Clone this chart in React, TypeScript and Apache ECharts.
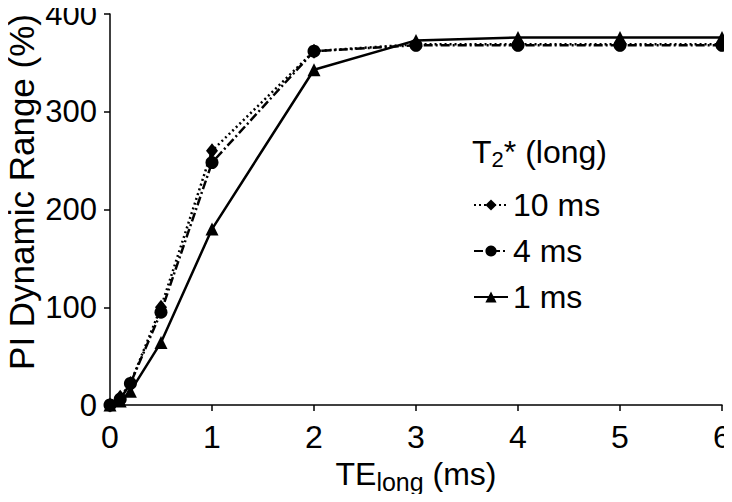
import React, { useEffect, useRef } from "react";
import * as echarts from "echarts";

const xValues = [0, 0.1, 0.2, 0.5, 1, 2, 3, 4, 5, 6];
const series10ms = [0, 8, 22, 100, 260, 362, 369, 369, 369, 369];
const series4ms = [0, 6, 22, 95, 248, 362, 368, 368, 368, 368];
const series1ms = [0, 4, 14, 64, 180, 343, 373, 376, 376, 376];
const seriesNames = ["10 ms", "4 ms", "1 ms"];
const yTicks = [0, 100, 200, 300, 400];
const xTicks = [0, 1, 2, 3, 4, 5, 6];

const FONT = "Liberation Sans, Arial, sans-serif";

export default function App() {
  const ref = useRef<HTMLDivElement>(null);
  useEffect(() => {
    if (!ref.current) return;
    const chart = echarts.init(ref.current, undefined, { renderer: "svg" });
    const pair = (ys: number[]) => xValues.map((x, i) => [x, ys[i]]);
    const common = {
      type: "line",
      color: "#000",
      clip: false,
      itemStyle: { color: "#000" },
    };
    chart.setOption({
      animation: false,
      backgroundColor: "#fff",
      textStyle: { fontFamily: FONT },
      grid: { left: 110, right: 10, top: 14, bottom: 97, outerBoundsMode: "none", containLabel: false },
      xAxis: {
        type: "value",
        min: xTicks[0],
        max: xTicks[xTicks.length - 1],
        interval: 1,
        splitLine: { show: false },
        axisLine: { lineStyle: { color: "#000", width: 1.5 } },
        axisTick: { length: 6, lineStyle: { color: "#000", width: 1.5 } },
        axisLabel: { color: "#000", fontSize: 32, margin: 16, fontFamily: FONT },
        name: "{a|TE}{b|long}{a| (ms)}",
        nameLocation: "middle",
        nameGap: 43,
        nameTextStyle: {
          rich: {
            a: { fontSize: 32, color: "#000", fontFamily: FONT },
            b: { fontSize: 25, color: "#000", fontFamily: FONT, padding: [16, 0, 0, 0] },
          },
        },
      },
      yAxis: {
        type: "value",
        min: yTicks[0],
        max: yTicks[yTicks.length - 1],
        interval: 100,
        splitLine: { show: false },
        axisLine: { show: true, lineStyle: { color: "#000", width: 1.5 } },
        axisTick: { show: true, length: 6, lineStyle: { color: "#000", width: 1.5 } },
        axisLabel: { color: "#000", fontSize: 31, lineHeight: 24, margin: 13, fontFamily: FONT },
      },
      legend: {
        orient: "vertical",
        left: 468,
        top: 184,
        itemWidth: 34,
        itemHeight: 14,
        itemGap: 14,
        data: seriesNames,
        textStyle: { fontSize: 32, color: "#000", fontFamily: FONT, lineHeight: 32 },
      },
      graphic: [
        {
          type: "text",
          left: 472,
          top: 136,
          style: {
            text: "{a|T}{s|2}{a|* (long)}",
            rich: {
              a: { fontSize: 32, fill: "#000", fontFamily: FONT },
              s: { fontSize: 22, fill: "#000", fontFamily: FONT, padding: [15, 0, 0, 0] },
            },
          },
        },
        {
          type: "text",
          x: 21,
          y: 192,
          rotation: Math.PI / 2,
          style: {
            text: "PI Dynamic Range (%)",
            fontSize: 35,
            lineHeight: 36,
            fill: "#000",
            fontFamily: FONT,
            align: "center",
            verticalAlign: "middle",
          },
        },
      ],
      series: [
        {
          ...common,
          name: seriesNames[0],
          data: pair(series10ms),
          symbol: "diamond",
          symbolSize: [12, 15],
          lineStyle: { color: "#000", width: 2.5, type: [2, 3] },
          z: 2,
        },
        {
          ...common,
          name: seriesNames[1],
          data: pair(series4ms),
          symbol: "circle",
          symbolSize: 13,
          lineStyle: { color: "#000", width: 2.5, type: [9, 3, 2, 3] },
          z: 3,
        },
        {
          ...common,
          name: seriesNames[2],
          data: pair(series1ms),
          symbol: "triangle",
          symbolSize: 13,
          lineStyle: { color: "#000", width: 2.5, type: "solid" },
          z: 4,
        },
      ],
    });
    return () => chart.dispose();
  }, []);
  return <div ref={ref} style={{ width: 732, height: 502, margin: -8 }} />;
}
